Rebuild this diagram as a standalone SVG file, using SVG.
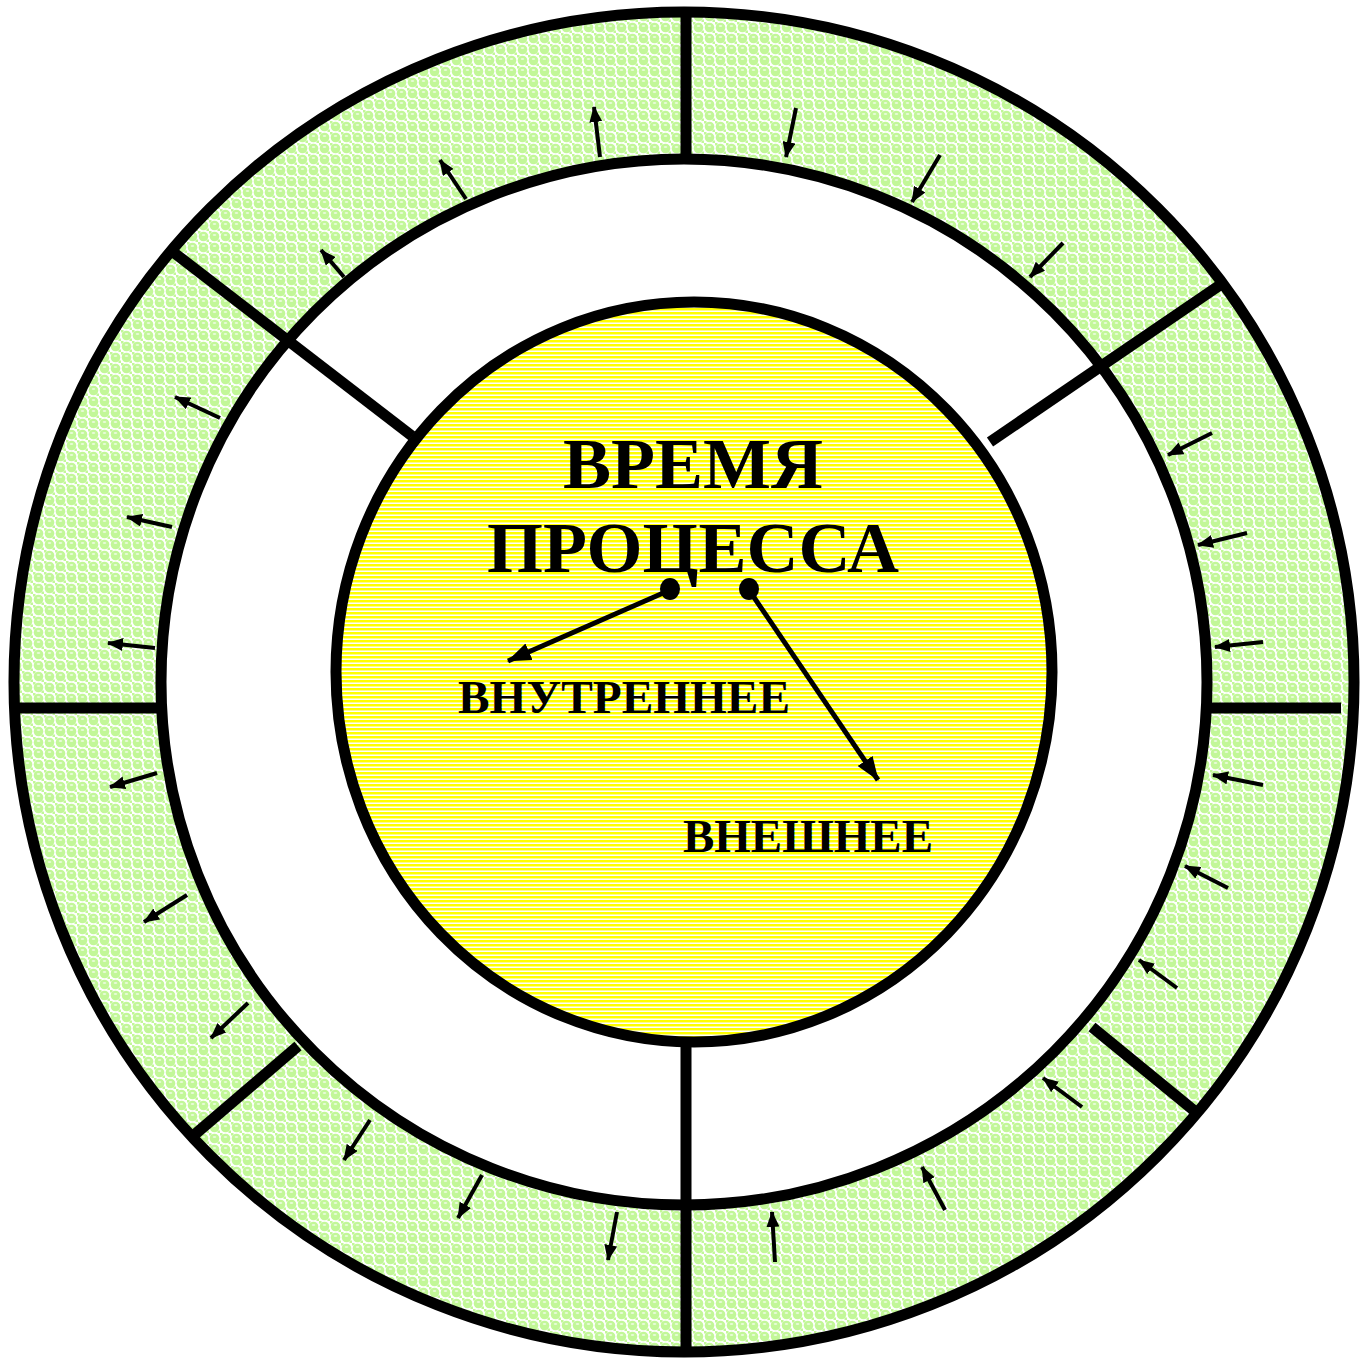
<svg xmlns="http://www.w3.org/2000/svg" width="1362" height="1360" viewBox="0 0 1362 1360">
<style>
.ln{stroke:#000;stroke-width:11;fill:none}
.ar{stroke:#000;stroke-width:4;fill:none;marker-end:url(#ah)}
.car{stroke:#000;stroke-width:5;fill:none;marker-end:url(#ahb)}
.big{font-family:"Liberation Serif","Times New Roman",serif;font-weight:bold;font-size:72px;text-anchor:middle;fill:#000}
.sm{font-family:"Liberation Serif","Times New Roman",serif;font-weight:bold;font-size:46px;fill:#000}
</style>
<defs>
<pattern id="grn" width="11" height="11" patternUnits="userSpaceOnUse">
<rect width="11" height="11" fill="#ffffff"/>
<circle cx="5.5" cy="5.5" r="4.8" fill="#c2f798"/>
<rect x="0" y="0" width="2.5" height="2.5" fill="#c2f798"/>
<rect x="8.5" y="8.5" width="2.5" height="2.5" fill="#c2f798"/>
<ellipse cx="5.5" cy="4" rx="1.8" ry="0.9" fill="#e8fcd9"/>
</pattern>
<pattern id="yel" width="8" height="4" patternUnits="userSpaceOnUse">
<rect width="8" height="4" fill="#ffffff"/>
<rect y="0" width="8" height="2" fill="#ffff00"/>
<rect y="2" width="8" height="1" fill="#ffff88"/>
</pattern>
<marker id="ah" markerWidth="16" markerHeight="13" refX="15" refY="6.5" orient="auto" markerUnits="userSpaceOnUse">
<path d="M0,0 L16,6.5 L0,13 Z" fill="#000"/>
</marker>
<marker id="ahb" markerWidth="24" markerHeight="18" refX="23" refY="9" orient="auto" markerUnits="userSpaceOnUse">
<path d="M0,0 L24,9 L0,18 Z" fill="#000"/>
</marker>
</defs>
<rect width="1362" height="1360" fill="#ffffff"/>

<g id="ring">
<path d="M14,682 A670,670 0 1,0 1354,682 A670,670 0 1,0 14,682 Z M161,682 A523,523 0 1,0 1207,682 A523,523 0 1,0 161,682 Z" fill="url(#grn)" fill-rule="evenodd"/>
<circle cx="684" cy="682" r="670" class="ln"/>
<circle cx="684" cy="682" r="523" class="ln"/>
</g>

<g id="core">
<ellipse cx="694" cy="672" rx="358" ry="370" fill="url(#yel)" stroke="#000" stroke-width="11"/>
</g>

<g id="dividers">
<line x1="686" y1="12" x2="686" y2="160" class="ln"/>
<line x1="686" y1="1045" x2="686" y2="1352" class="ln"/>
<line x1="14" y1="708" x2="160" y2="708" class="ln"/>
<line x1="1210" y1="708" x2="1341" y2="708" class="ln"/>
<line x1="173" y1="252" x2="412" y2="436" class="ln"/>
<line x1="1223" y1="283" x2="990" y2="442" class="ln"/>
<line x1="193" y1="1136" x2="298" y2="1046" class="ln"/>
<line x1="1092" y1="1027" x2="1197" y2="1113" class="ln"/>
</g>

<g id="arrows">
<line x1="600" y1="157" x2="594" y2="107" class="ar"/>
<line x1="466" y1="199" x2="440" y2="160" class="ar"/>
<line x1="344" y1="277" x2="321" y2="250" class="ar"/>
<line x1="220" y1="418" x2="175" y2="397" class="ar"/>
<line x1="172" y1="527" x2="127" y2="517" class="ar"/>
<line x1="155" y1="648" x2="108" y2="643" class="ar"/>
<line x1="157" y1="773" x2="110" y2="787" class="ar"/>
<line x1="187" y1="895" x2="144" y2="922" class="ar"/>
<line x1="248" y1="1003" x2="211" y2="1038" class="ar"/>
<line x1="370" y1="1120" x2="344" y2="1160" class="ar"/>
<line x1="482" y1="1175" x2="458" y2="1218" class="ar"/>
<line x1="617" y1="1212" x2="608" y2="1260" class="ar"/>
<line x1="775" y1="1262" x2="772" y2="1212" class="ar"/>
<line x1="945" y1="1210" x2="922" y2="1167" class="ar"/>
<line x1="1082" y1="1107" x2="1043" y2="1078" class="ar"/>
<line x1="1177" y1="988" x2="1139" y2="960" class="ar"/>
<line x1="1228" y1="888" x2="1185" y2="866" class="ar"/>
<line x1="1263" y1="785" x2="1213" y2="775" class="ar"/>
<line x1="1263" y1="642" x2="1215" y2="647" class="ar"/>
<line x1="1247" y1="533" x2="1198" y2="545" class="ar"/>
<line x1="1212" y1="433" x2="1168" y2="455" class="ar"/>
<line x1="796" y1="108" x2="786" y2="157" class="ar"/>
<line x1="940" y1="155" x2="912" y2="202" class="ar"/>
<line x1="1063" y1="243" x2="1030" y2="277" class="ar"/>
</g>

<g id="center-connectors">
<line x1="670" y1="590" x2="508" y2="661" class="car"/>
<line x1="749" y1="590" x2="878" y2="780" class="car"/>
<ellipse cx="670" cy="589" rx="10" ry="11" fill="#000"/>
<ellipse cx="749" cy="589" rx="10" ry="11" fill="#000"/>
</g>

<g id="labels">
<text x="693" y="488" class="big">ВРЕМЯ</text>
<text x="693" y="572" class="big">ПРОЦЕССА</text>
<text x="458" y="713" class="sm" textLength="332" lengthAdjust="spacingAndGlyphs">ВНУТРЕННЕЕ</text>
<text x="683" y="852" class="sm" textLength="250" lengthAdjust="spacingAndGlyphs">ВНЕШНЕЕ</text>
</g>
</svg>
